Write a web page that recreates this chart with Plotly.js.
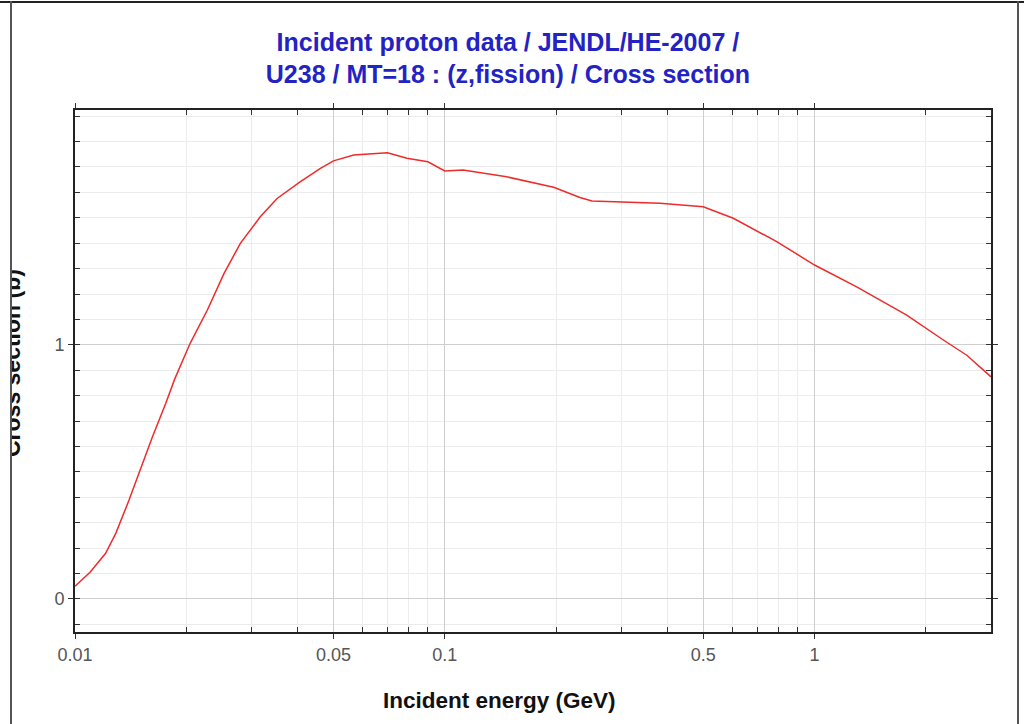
<!DOCTYPE html>
<html>
<head>
<meta charset="utf-8">
<script src="https://cdn.plot.ly/plotly-3.0.1.min.js"></script>
<style>
  html, body { margin: 0; padding: 0; background: #fff; overflow: hidden; }
  #page { position: relative; width: 1024px; height: 724px; }
  #chart { position: absolute; left: 0; top: 0; width: 1024px; height: 724px; }
  .edge { position: absolute; background: #555; }
  #mask { position: absolute; left: 0; top: 0; width: 11px; height: 724px; background: #fff; }
</style>
</head>
<body>
<div id="page">
  <div id="chart"></div>
  <div id="mask"></div>
  <div class="edge" style="left:0; top:1px; width:1024px; height:2px; background:#222;"></div>
  <div class="edge" style="left:10px; top:1px; width:2px; height:723px;"></div>
  <div class="edge" style="left:1017px; top:1px; width:2px; height:723px;"></div>
</div>
<script>
// Incident proton energy (GeV) and U-238 fission cross section (b), JENDL/HE-2007
const energyGeV = [0.01, 0.0110, 0.0121, 0.0129, 0.0140, 0.0152, 0.0162, 0.0176, 0.0186, 0.0205,
  0.0228, 0.0253, 0.0280, 0.0317, 0.0352, 0.0407, 0.0461, 0.05, 0.0567, 0.07,
  0.079, 0.09, 0.1, 0.112, 0.147, 0.197, 0.232, 0.25, 0.382, 0.5,
  0.603, 0.79, 1.0, 1.3, 1.775, 2.23, 2.58, 3.0];
const crossSectionB = [0.050, 0.106, 0.180, 0.259, 0.389, 0.534, 0.638, 0.770, 0.865, 1.007,
  1.137, 1.281, 1.399, 1.504, 1.576, 1.642, 1.694, 1.724, 1.747, 1.756,
  1.734, 1.720, 1.684, 1.688, 1.661, 1.620, 1.580, 1.566, 1.557, 1.543,
  1.498, 1.406, 1.314, 1.228, 1.117, 1.019, 0.959, 0.874];

const xTickVals = [0.01, 0.05, 0.1, 0.5, 1];
const xTickText = ['0.01', '0.05', '0.1', '0.5', '1'];
const xMinorVals = [0.02, 0.03, 0.04, 0.06, 0.07, 0.08, 0.09,
  0.2, 0.3, 0.4, 0.6, 0.7, 0.8, 0.9, 2, 3];
const yTickVals = [0, 1];

const titleLines = ['Incident proton data / JENDL/HE-2007 /', 'U238 / MT=18 : (z,fission) / Cross section'];
const xTitle = 'Incident energy (GeV)';
const yTitle = 'Cross section (b)';

const FONT = 'Arial, "Liberation Sans", sans-serif';
const MAJOR_GRID = '#cfcfcf';
const MINOR_GRID = '#ececec';

// plot area in pixels
const M = { l: 75, r: 33, t: 110, b: 92 };
const PW = 1024 - M.l - M.r;
const PH = 724 - M.t - M.b;

const trace = {
  x: energyGeV,
  y: crossSectionB,
  type: 'scatter',
  mode: 'lines',
  line: { color: '#ee2b2b', width: 1.5 },
  hoverinfo: 'x+y'
};

const layout = {
  width: 1024,
  height: 724,
  margin: M,
  paper_bgcolor: '#fff',
  plot_bgcolor: '#fff',
  showlegend: false,
  title: {
    text: titleLines.join('<br>'),
    font: { family: FONT, size: 25, color: '#2323c4', weight: 'bold' },
    xref: 'container', x: 0.496, xanchor: 'center',
    yref: 'container', y: 0.93, yanchor: 'top'
  },
  xaxis: {
    type: 'log',
    range: [-2, Math.log10(3)],
    tickmode: 'array',
    tickvals: xTickVals,
    ticktext: xTickText,
    ticks: 'outside', ticklen: 5, tickcolor: '#333', tickwidth: 1,
    tickfont: { family: FONT, size: 18, color: '#555' },
    showline: true, linecolor: '#222', linewidth: 2, mirror: 'allticks',
    showgrid: true, gridcolor: MAJOR_GRID, gridwidth: 1,
    zeroline: false,
    minor: {
      tickmode: 'array', tickvals: xMinorVals,
      ticks: 'inside', ticklen: 5, tickcolor: '#333',
      showgrid: true, gridcolor: MINOR_GRID, gridwidth: 1
    }
  },
  yaxis: {
    range: [-0.13, 1.924],
    tickmode: 'array',
    tickvals: yTickVals,
    ticks: 'outside', ticklen: 5, tickcolor: '#333', tickwidth: 1,
    tickfont: { family: FONT, size: 18, color: '#555' },
    showline: true, linecolor: '#222', linewidth: 2, mirror: 'allticks',
    showgrid: true, gridcolor: MAJOR_GRID, gridwidth: 1,
    zeroline: false,
    minor: {
      dtick: 0.1, tick0: 0,
      ticks: 'inside', ticklen: 5, tickcolor: '#333',
      showgrid: true, gridcolor: MINOR_GRID, gridwidth: 1
    }
  },
  annotations: [{
    text: xTitle,
    xref: 'paper', x: (499 - M.l) / PW, xanchor: 'center',
    yref: 'paper', y: -(700 - (M.t + PH)) / PH, yanchor: 'middle',
    showarrow: false,
    font: { family: FONT, size: 22.5, color: '#111', weight: 'bold' }
  }, {
    text: yTitle,
    textangle: -90,
    xref: 'paper', x: (12 - M.l) / PW, xanchor: 'center',
    yref: 'paper', y: (M.t + PH - 363) / PH, yanchor: 'middle',
    showarrow: false,
    font: { family: FONT, size: 23, color: '#111', weight: 'bold' }
  }]
};

Plotly.newPlot('chart', [trace], layout, { displayModeBar: false, staticPlot: true });
</script>
</body>
</html>
